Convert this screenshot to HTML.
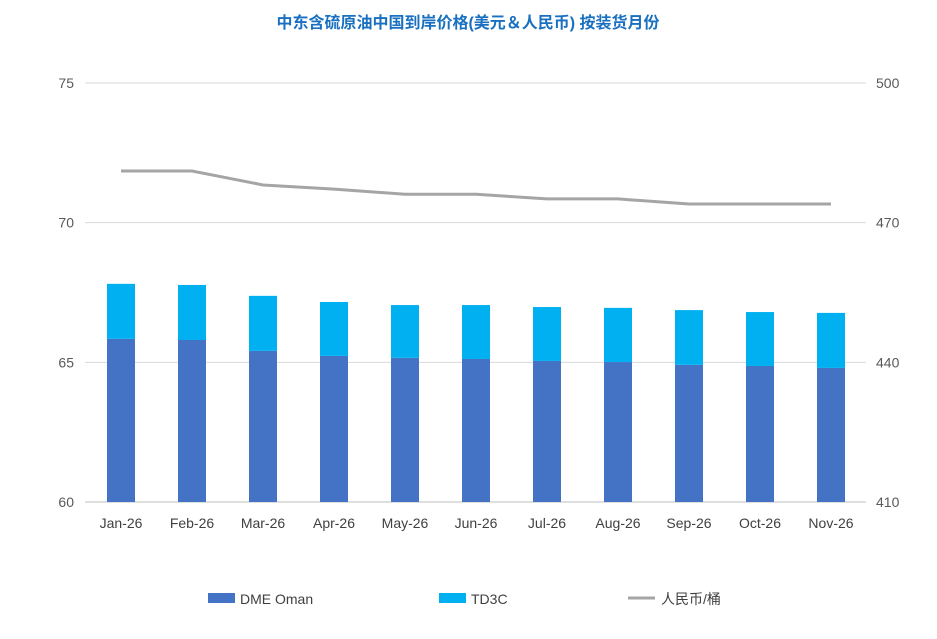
<!DOCTYPE html>
<html><head><meta charset="utf-8"><style>
body{margin:0;background:#fff;font-family:"Liberation Sans","Noto Sans CJK SC",sans-serif}
</style></head><body>
<svg width="937" height="634" xmlns="http://www.w3.org/2000/svg">
<text x="468" y="28" text-anchor="middle" font-size="16" font-weight="bold" fill="#1a70c0">中东含硫原油中国到岸价格(美元＆人民币) 按装货月份</text>
<g id="grid"></g><g id="bars"></g><g id="line"></g><g id="axes"></g>
<g font-size="14" fill="#404040">
<rect x="208" y="593" width="27" height="10" fill="#4472c4"/>
<text x="240" y="604">DME Oman</text>
<rect x="439" y="593" width="27" height="10" fill="#00b0f0"/>
<text x="471" y="604">TD3C</text>
<line x1="628" y1="598" x2="655" y2="598" stroke="#a5a5a5" stroke-width="3"/>
<text x="661" y="604">人民币/桶</text>
</g>
</svg>
<script>
const categories=["Jan-26","Feb-26","Mar-26","Apr-26","May-26","Jun-26","Jul-26","Aug-26","Sep-26","Oct-26","Nov-26"];
const dmeOman=[65.84,65.80,65.41,65.23,65.16,65.12,65.05,65.01,64.91,64.87,64.80];
const td3c=[1.97,1.97,1.97,1.93,1.89,1.93,1.93,1.94,1.96,1.93,1.97];
const rmb=[481.1,481.1,478.1,477.2,476.1,476.1,475.1,475.1,474.0,474.0,474.0];
const leftTicks=[60,65,70,75];
const rightTicks=[410,440,470,500];
const NS="http://www.w3.org/2000/svg";
const x0=85.5,step=71,bw=28,yB=502,yT=83;
const yL=v=>yB-(v-60)/15*(yB-yT);
const yR=v=>yB-(v-410)/90*(yB-yT);
const xc=i=>x0+step*(i+0.5);
function mk(t,a,p){const e=document.createElementNS(NS,t);for(const k in a)e.setAttribute(k,a[k]);document.getElementById(p).appendChild(e);return e;}
leftTicks.forEach((v,i)=>{
 const g=mk("line",{x1:85,x2:866,y1:yL(v),y2:yL(v),stroke:i==0?"#bfbfbf":"#d9d9d9","stroke-width":1},"grid");
 
 
 const t=mk("text",{x:74,y:yL(v)+5,"text-anchor":"end","font-size":14,fill:"#595959"},"axes");t.textContent=v;
 
 
});
rightTicks.forEach(v=>{
 const t=mk("text",{x:876,y:yR(v)+5,"font-size":14,fill:"#595959"},"axes");t.textContent=v;
 
 
});
categories.forEach((c,i)=>{
 const t=mk("text",{x:xc(i),y:528,"text-anchor":"middle","font-size":14,fill:"#404040"},"axes");t.textContent=c;
 
 
 const b1=mk("rect",{x:xc(i)-bw/2,y:yL(dmeOman[i]),width:bw,height:yB-yL(dmeOman[i]),fill:"#4472c4"},"bars");
 
 
 const top=dmeOman[i]+td3c[i];
 const b2=mk("rect",{x:xc(i)-bw/2,y:yL(top),width:bw,height:yL(dmeOman[i])-yL(top),fill:"#00b0f0"},"bars");
 
 
});
const pl=mk("polyline",{points:rmb.map((v,i)=>xc(i)+","+yR(v)).join(" "),fill:"none",stroke:"#a5a5a5","stroke-width":3},"line");


</script>
</body></html>
